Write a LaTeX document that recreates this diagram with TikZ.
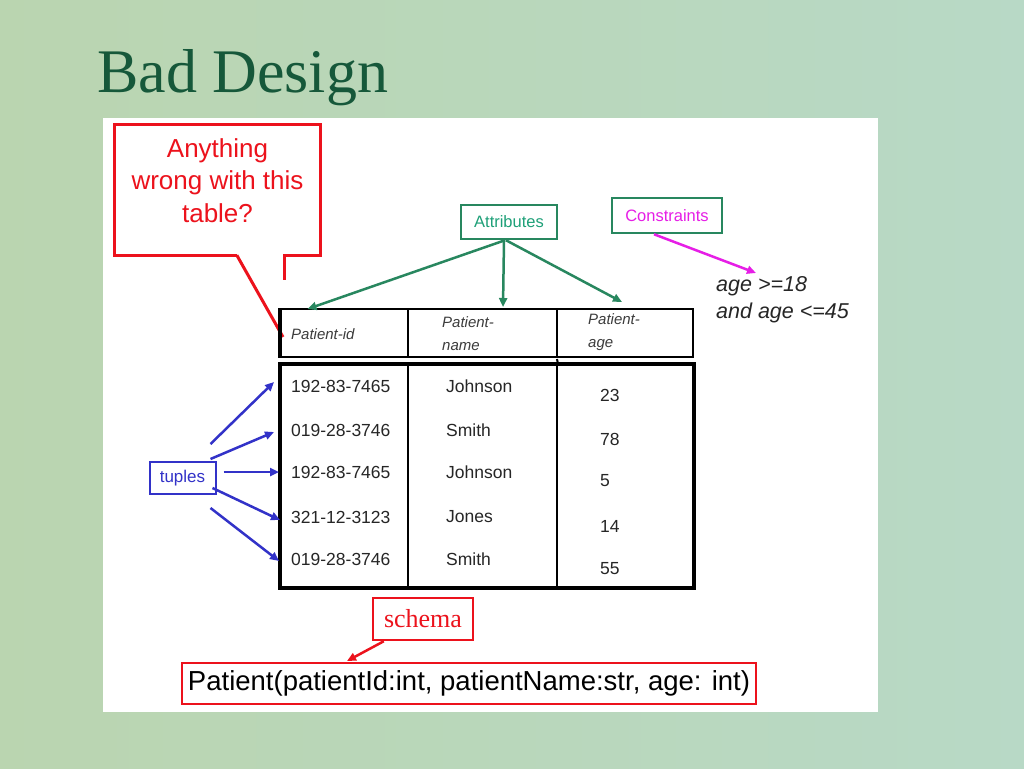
\documentclass[tikz,border=0pt]{standalone}
\usepackage{fontspec}
\setmainfont{Liberation Serif}
\setsansfont{Liberation Sans}
\usetikzlibrary{arrows.meta,calc}
\definecolor{bgA}{RGB}{186,213,176}
\definecolor{bgB}{RGB}{184,217,198}
\definecolor{titlegreen}{RGB}{22,88,58}
\definecolor{callred}{RGB}{236,18,28}
\definecolor{boxgreen}{RGB}{40,135,95}
\definecolor{attrtext}{RGB}{30,160,120}
\definecolor{magentac}{RGB}{230,30,230}
\definecolor{tupblue}{RGB}{50,50,200}
\definecolor{hdrgray}{RGB}{60,60,60}
\tikzset{
  cell/.style={draw=black, line width=2pt, inner sep=0pt, minimum height=48pt},
  bodycell/.style={draw=black, line width=2pt, inner sep=0pt, minimum height=222pt},
  hdrtext/.style={font=\sffamily\itshape\fontsize{15}{23}\selectfont, text=hdrgray, inner sep=0pt, align=left},
  celltext/.style={font=\sffamily\fontsize{17.5}{20}\selectfont, text=black!85, inner sep=0pt},
  greenbox/.style={draw=boxgreen, line width=2.5pt, fill=white, inner sep=0pt},
  greenarrow/.style={draw=boxgreen, line width=2.5pt, -{Triangle[length=9pt,width=8pt]}},
  bluearrow/.style={draw=tupblue, line width=2.5pt, -{Triangle[length=9pt,width=8pt]}},
  magarrow/.style={draw=magentac, line width=2.5pt, -{Triangle[length=9pt,width=8pt]}},
  redarrow/.style={draw=callred, line width=2.5pt, -{Triangle[length=9pt,width=8pt]}},
}
\begin{document}
\begin{tikzpicture}[x=1pt,y=-1pt]
% background
\path[use as bounding box, left color=bgA, right color=bgB] (0,0) rectangle (1024,768);
\fill[white] (103,118) rectangle (878,712);

% title
\node[anchor=base west, font=\fontsize{62}{70}\selectfont, text=titlegreen, inner sep=0pt] (title) at (97,92) {Bad Design};

% callout
\node[inner sep=0pt, minimum width=205pt, minimum height=130pt] (call) at (217.5,190) {};
\node[font=\sffamily\fontsize{26}{32.5}\selectfont, text=callred, align=center, inner sep=0pt, anchor=north] (calltext) at (217.5,138) {Anything\\wrong with this\\table?};
\draw[callred, line width=3pt, line join=miter]
  ($(call.south west)+(122,0)$) -- (call.south west) -- (call.north west) -- (call.north east) -- (call.south east) -- ($(call.south west)+(170,0)$) -- ($(call.south west)+(170,25)$);
\coordinate (tip) at (283,337);
\draw[callred, line width=3pt] ($(call.south west)+(122,0)$) -- (tip);

% header cells
\node[cell, minimum width=127pt] (hc1) at (344.5,333) {};
\node[cell, minimum width=149pt] (hc2) at (482.5,333) {};
\node[cell, minimum width=136pt] (hc3) at (625,333) {};
\draw[black, line width=3.5pt] (hc1.north west) -- (hc1.south west);
\node[hdrtext, anchor=west] (h1) at (291,334) {Patient-id};
\node[hdrtext, anchor=north west] (h2) at (442,316) {Patient-\\name};
\node[hdrtext, anchor=north west] (h3) at (588,313) {Patient-\\age};

% body cells
\node[bodycell, minimum width=127pt] (bc1) at (344.5,476) {};
\node[bodycell, minimum width=149pt] (bc2) at (482.5,476) {};
\node[bodycell, minimum width=136pt] (bc3) at (625,476) {};
\draw[black, line width=3.5pt] (bc1.north west) -- (bc3.north east) -- (bc3.south east) -- (bc1.south west) -- cycle;
\draw[black, line width=2pt] (557,359) -- (bc2.north east);

% rows
\node[celltext, anchor=west] (id1) at (291,386) {192-83-7465};
\node[celltext, anchor=west] (id2) at (291,430) {019-28-3746};
\node[celltext, anchor=west] (id3) at (291,472) {192-83-7465};
\node[celltext, anchor=west] (id4) at (291,517) {321-12-3123};
\node[celltext, anchor=west] (id5) at (291,559) {019-28-3746};
\node[celltext, anchor=west] (n1) at (446,386) {Johnson};
\node[celltext, anchor=west] (n2) at (446,430) {Smith};
\node[celltext, anchor=west] (n3) at (446,472) {Johnson};
\node[celltext, anchor=west] (n4) at (446,517) {Jones};
\node[celltext, anchor=west] (n5) at (446,559) {Smith};
\node[celltext, anchor=west] (a1) at (600,395) {23};
\node[celltext, anchor=west] (a2) at (600,439) {78};
\node[celltext, anchor=west] (a3) at (600,481) {5};
\node[celltext, anchor=west] (a4) at (600,526) {14};
\node[celltext, anchor=west] (a5) at (600,569) {55};

% attributes
\node[greenbox, minimum width=96pt, minimum height=34pt, text=attrtext, font=\sffamily\fontsize{16.5}{18}\selectfont] (attr) at (509,222) {Attributes};
\draw[greenarrow] ($(attr.south)+(-4,0)$) -- ($(hc1.north)+(-37,1)$);
\draw[greenarrow] ($(attr.south)+(-5,0)$) -- ($(hc2.north)+(20.5,-1)$);
\draw[greenarrow] ($(attr.south)+(-3,0)$) -- ($(hc3.north)+(-3,-6)$);

% constraints
\node[greenbox, minimum width=110pt, minimum height=35pt, text=magentac, font=\sffamily\fontsize{16.5}{18}\selectfont] (ctr) at (667,215.5) {Constraints};
\node[font=\sffamily\itshape\fontsize{21.5}{27}\selectfont, text=black!85, align=left, inner sep=0pt, anchor=north west] (cons) at (716,276) {age >=18\\and age <=45};
\draw[magarrow] ($(ctr.south)+(-13,0)$) -- ($(cons.north west)+(40,-3)$);

% tuples
\node[draw=tupblue, line width=2pt, fill=white, minimum width=66pt, minimum height=32pt, inner sep=0pt, text=tupblue, font=\sffamily\fontsize{17}{19}\selectfont] (tup) at (182.5,478) {tuples};
\coordinate (t1) at (274,382);
\coordinate (t2) at (274,432);
\coordinate (t3) at (279,472);
\coordinate (t4) at (280,520);
\coordinate (t5) at (279,561);
\draw[bluearrow] ($(tup.north east)+(-6,-17)$) -- (t1);
\draw[bluearrow] ($(tup.north east)+(-6,-2)$) -- (t2);
\draw[bluearrow] ($(tup.east)+(7,-6)$) -- (t3);
\draw[bluearrow] ($(tup.south east)+(-4,-7)$) -- (t4);
\draw[bluearrow] ($(tup.south east)+(-6,13)$) -- (t5);

% schema
\node[draw=callred, line width=2.5pt, fill=white, minimum width=100pt, minimum height=42pt, inner sep=0pt, text=callred, font=\fontsize{26}{28}\selectfont] (schema) at (423,619) {schema};
\node[draw=callred, line width=2pt, fill=white, minimum width=574pt, minimum height=41pt, inner sep=0pt, text=black, font=\sffamily\fontsize{27.5}{30}\selectfont] (pat) at (469,683.5) {Patient(patientId:int, patientName:str, age: int)};
\draw[redarrow] ($(schema.south west)+(12,0)$) -- ($(pat.north)+(-122,-1)$);
\end{tikzpicture}
\end{document}
